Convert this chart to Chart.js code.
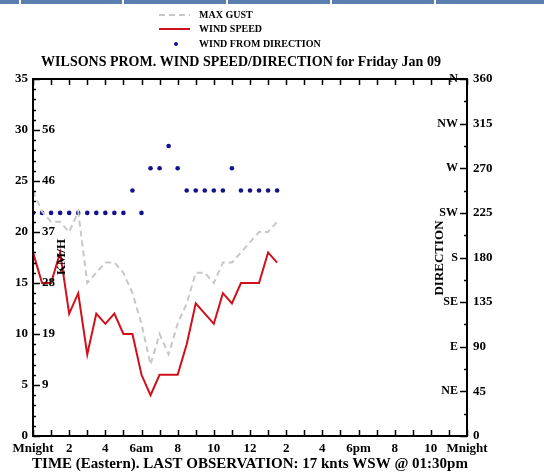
<!DOCTYPE html>
<html>
<head>
<meta charset="utf-8">
<title>Wilsons Prom. wind speed/direction</title>
<style>
  html, body { margin: 0; padding: 0; background: #fff; }
  #wrap { position: relative; width: 544px; height: 476px; }
  #topbar { position: absolute; left: 0; top: 0; width: 544px; height: 4px; background: #5a7fae; }
  .sep { position: absolute; top: 0; width: 2px; height: 4px; background: #fff; }
  #chart { position: absolute; left: 0; top: 0; }
</style>
<script src="https://cdn.jsdelivr.net/npm/chart.js@4"></script>
</head>
<body>
<div id="wrap">
  <canvas id="chart" width="544" height="476"></canvas>
  <div id="topbar">
    <div class="sep" style="left:19px"></div>
    <div class="sep" style="left:122px"></div>
    <div class="sep" style="left:226px"></div>
    <div class="sep" style="left:330px"></div>
    <div class="sep" style="left:434px"></div>
  </div>
</div>
<script>
'use strict'

// **** DATA ****
let obsHours = [0, 0.5, 1, 1.5, 2, 2.5, 3, 3.5, 4, 4.5, 5, 5.5, 6, 6.5, 7, 7.5, 8, 8.5, 9, 9.5, 10, 10.5, 11, 11.5, 12, 12.5, 13, 13.5];
let windSpeed = [18, 15, 15, 18, 12, 14, 8, 12, 11, 12, 10, 10, 6, 4, 6, 6, 6, 9, 13, 12, 11, 14, 13, 15, 15, 15, 18, 17];
let maxGust = [24, 22, 21, 21, 20, 22, 15, 16, 17, 17, 16, 14, 11, 7, 10, 8, 11, 13, 16, 16, 15, 17, 17, 18, 19, 20, 20, 21];
let windDir = [225, 225, 225, 225, 225, 225, 225, 225, 225, 225, 225, 247.5, 225, 270, 270, 292.5, 270, 247.5, 247.5, 247.5, 247.5, 247.5, 270, 247.5, 247.5, 247.5, 247.5, 247.5];

let timeLabels = ['Mnight', '2', '4', '6am', '8', '10', '12', '2', '4', '6pm', '8', '10', 'Mnight'];
let kmhLabels = ['9', '19', '28', '37', '46', '56'];     // at 5, 10 ... 30 knots
let compassLabels = ['NE', 'E', 'SE', 'S', 'SW', 'W', 'NW', 'N'];   // at 45, 90 ... 360 deg

let titleText = 'WILSONS PROM. WIND SPEED/DIRECTION for Friday Jan 09';
let footText = 'TIME (Eastern). LAST OBSERVATION: 17 knts WSW @ 01:30pm';

// **** HELPERS ****
function toPoints(values) {
  let pts = [];
  for (let i = 0; i < values.length; i++) {
    pts.push({x: obsHours[i], y: values[i]});
  }
  return pts;
}

const boldFont = 'bold 13px "Liberation Serif"';

// draws the frame, inward ticks, extra labels and the legend
const extrasPlugin = {
  id: 'extras',
  afterDraw(chart) {
    const ctx = chart.ctx;
    const area = chart.chartArea;
    const xs = chart.scales.x;
    const ys = chart.scales.y;
    const ds = chart.scales.y2;

    ctx.save();
    ctx.strokeStyle = '#000';
    ctx.fillStyle = '#000';

    // frame
    ctx.lineWidth = 2;
    ctx.strokeRect(area.left, area.top, area.right - area.left, area.bottom - area.top);

    // ticks
    ctx.lineWidth = 1.5;
    ctx.beginPath();
    xs.ticks.forEach(t => {
      let px = Math.round(xs.getPixelForValue(t.value)) + 0.5;
      ctx.moveTo(px, area.bottom); ctx.lineTo(px, area.bottom - 6);
      ctx.moveTo(px, area.top); ctx.lineTo(px, area.top + 6);
    });
    ys.ticks.forEach(t => {
      let py = Math.round(ys.getPixelForValue(t.value)) + 0.5;
      let len = t.value % 5 === 0 ? 7 : 3;
      ctx.moveTo(area.left, py); ctx.lineTo(area.left + len, py);
    });
    ds.ticks.forEach(t => {
      let py = Math.round(ds.getPixelForValue(t.value)) + 0.5;
      let len = t.value % 45 === 0 ? 7 : 3;
      ctx.moveTo(area.right, py); ctx.lineTo(area.right - len, py);
    });
    ctx.stroke();

    // km/h labels inside the left axis
    ctx.font = boldFont;
    ctx.textAlign = 'left';
    ctx.textBaseline = 'middle';
    for (let i = 0; i < kmhLabels.length; i++) {
      ctx.fillText(kmhLabels[i], area.left + 9, ys.getPixelForValue((i + 1) * 5));
    }

    // compass labels inside the right axis
    ctx.font = 'bold 12px "Liberation Serif"';
    ctx.textAlign = 'right';
    for (let i = 0; i < compassLabels.length; i++) {
      ctx.fillText(compassLabels[i], area.right - 9, ds.getPixelForValue((i + 1) * 45));
    }

    // axis titles
    ctx.font = boldFont;
    ctx.textAlign = 'center';
    ctx.save();
    ctx.translate(62, 257);
    ctx.rotate(-Math.PI / 2);
    ctx.fillText('KM/H', 0, 0);
    ctx.restore();
    ctx.save();
    ctx.translate(440, 258);
    ctx.rotate(-Math.PI / 2);
    ctx.fillText('DIRECTION', 0, 0);
    ctx.restore();

    // title and footer
    ctx.font = 'bold 14px "Liberation Serif"';
    ctx.fillText(titleText, 241, 62);
    ctx.font = 'bold 15px "Liberation Serif"';
    ctx.fillText(footText, 250, 464);

    // legend
    let rowY = [15, 29, 44];
    ctx.font = 'bold 10px "Liberation Serif"';
    ctx.textAlign = 'left';
    chart.data.datasets.forEach((d, i) => {
      let y = rowY[i];
      if (d.showLine === false) {
        ctx.fillStyle = d.pointBackgroundColor;
        ctx.beginPath();
        ctx.arc(176, y, 2, 0, Math.PI * 2);
        ctx.fill();
      } else {
        ctx.strokeStyle = d.borderColor;
        ctx.lineWidth = d.borderWidth;
        ctx.setLineDash(d.borderDash || []);
        ctx.beginPath();
        ctx.moveTo(159, y); ctx.lineTo(190, y);
        ctx.stroke();
        ctx.setLineDash([]);
      }
      ctx.fillStyle = '#000';
      ctx.fillText(d.label, 199, y);
    });

    ctx.restore();
  }
};

// **** CHART ****
const data = {
  datasets: [{
    label: 'MAX GUST',
    data: toPoints(maxGust),
    yAxisID: 'y',
    borderColor: '#c8c8c8',
    borderWidth: 2,
    borderDash: [6, 4],
    pointRadius: 0,
    tension: 0
  },
  {
    label: 'WIND SPEED',
    data: toPoints(windSpeed),
    yAxisID: 'y',
    borderColor: '#d0101a',
    borderWidth: 2,
    pointRadius: 0,
    tension: 0
  },
  {
    label: 'WIND FROM DIRECTION',
    data: toPoints(windDir),
    yAxisID: 'y2',
    showLine: false,
    pointRadius: 2.3,
    pointBackgroundColor: '#12128e',
    pointBorderWidth: 0,
    borderColor: '#12128e'
  }]
};

// no grid lines; ticks are drawn inward by the plugin
const noGrid = { display: false, drawTicks: false, tickLength: 0 };

const config = {
  type: 'line',
  data: data,
  plugins: [extrasPlugin],
  options: {
    responsive: false,
    animation: false,
    layout: { padding: { top: 79, left: 0, right: 0, bottom: 0 } },
    plugins: {
      legend: { display: false },
      title: { display: false },
      tooltip: { enabled: false }
    },
    scales: {
      x: {
        type: 'linear',
        min: 0,
        max: 24,
        grid: noGrid,
        border: { display: false },
        afterFit: scale => { scale.height = 40; },
        ticks: {
          stepSize: 1,
          autoSkip: false,
          maxRotation: 0,
          padding: 5,
          color: '#000',
          font: { family: 'Liberation Serif', size: 13, weight: 'bold' },
          callback: v => (v % 2 === 0 ? timeLabels[v / 2] : '')
        }
      },
      y: {
        position: 'left',
        min: 0,
        max: 35,
        grid: noGrid,
        border: { display: false },
        afterFit: scale => { scale.width = 33; },
        ticks: {
          stepSize: 1,
          autoSkip: false,
          padding: 5,
          color: '#000',
          font: { family: 'Liberation Serif', size: 13, weight: 'bold' },
          callback: v => (v % 5 === 0 ? v : '')
        }
      },
      y2: {
        position: 'right',
        min: 0,
        max: 360,
        grid: noGrid,
        border: { display: false },
        afterFit: scale => { scale.width = 77; },
        ticks: {
          stepSize: 22.5,
          autoSkip: false,
          padding: 6,
          color: '#000',
          font: { family: 'Liberation Serif', size: 13, weight: 'bold' },
          callback: v => (v % 45 === 0 ? v : '')
        }
      }
    }
  }
};

const ctx = document.getElementById('chart');
const windChart = new Chart(ctx, config);
</script>
</body>
</html>
